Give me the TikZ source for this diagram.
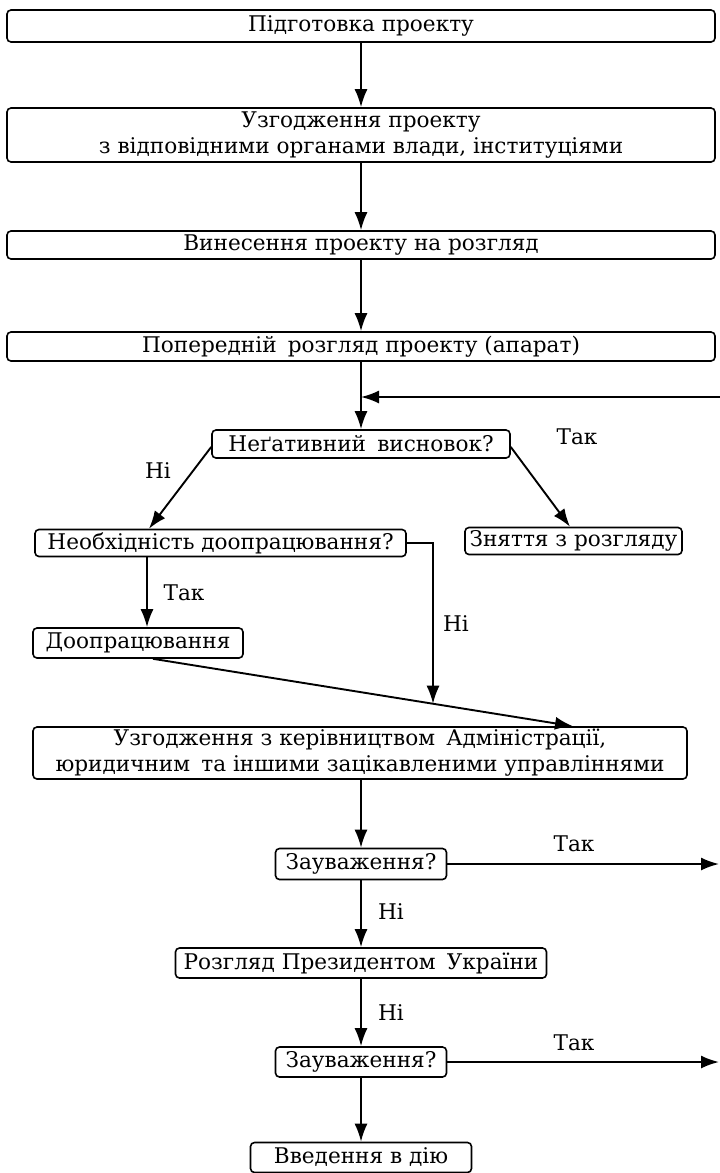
\documentclass[tikz,border=0pt]{standalone}
\usepackage{fontspec}
\setmainfont{DejaVu Serif}
\usetikzlibrary{arrows.meta,calc}
\newcommand{\xs}{\hspace{0.2em}}
\begin{document}
\begin{tikzpicture}[x=1pt,y=-1pt,
  box/.style={draw, line width=1.6pt, rounded corners=4pt, inner sep=0pt, align=center,
    font=\fontsize{21.6}{26}\selectfont},
  arr/.style={line width=1.9pt, -{Latex[length=18pt,width=13pt]}},
  lbl/.style={font=\fontsize{21.6}{26}\selectfont, inner sep=0pt}]
\useasboundingbox[fill=white] (0,0) rectangle (720,1173);

\node[box, minimum width=708pt, minimum height=32pt] (b1) at (361,26) {Підготовка проекту};
\node[box, minimum width=708pt, minimum height=54pt] (b2) at (361,135) {Узгодження проекту\\з відповідними органами влади, інституціями};
\node[box, minimum width=708pt, minimum height=28pt] (b3) at (361,245) {Винесення проекту на розгляд};
\node[box, minimum width=708pt, minimum height=29pt] (b4) at (361,346.5) {Попередній\xs{} розгляд проекту (апарат)};
\node[box, minimum width=298pt, minimum height=28pt] (b5) at (361,444) {Неґативний\xs{} висновок?};
\node[box, minimum width=371pt, minimum height=27pt] (b6) at (220.5,543) {Необхідність доопрацювання?};
\node[box, minimum width=217pt, minimum height=27pt] (b7) at (573.5,541) {Зняття з розгляду};
\node[box, minimum width=210pt, minimum height=30pt] (b8) at (138,643) {Доопрацювання};
\node[box, minimum width=654pt, minimum height=52pt] (b9) at (360,753) {Узгодження з керівництвом\xs{} Адміністрації,\\юридичним\xs{} та іншими зацікавленими управліннями};
\node[box, minimum width=171pt, minimum height=31pt] (b10) at (361,864) {Зауваження?};
\node[box, minimum width=371pt, minimum height=30pt] (b11) at (361,963) {Розгляд Президентом\xs{} України};
\node[box, minimum width=171pt, minimum height=30pt] (b12) at (361,1062) {Зауваження?};
\node[box, minimum width=221pt, minimum height=30pt] (b13) at (361,1157.5) {Введення в дію};

\coordinate (fb) at (720,397);
\coordinate (re) at (719,0);

\draw[arr] (b1) -- (b2);
\draw[arr] (b2) -- (b3);
\draw[arr] (b3) -- (b4);
\draw[arr] (b4) -- (b5);
\draw[arr] (fb) -- (fb -| b4.south);

\draw[arr] ([yshift=-3pt]b5.west) -- ([xshift=-71.5pt]b6.north);
\draw[arr] ([yshift=-3pt]b5.east) -- ([xshift=-3.5pt]b7.north);
\node[lbl] (l1) at (158,471) {Ні};
\node[lbl] (l2) at (577,437) {Так};

\draw[arr] ([xshift=9pt]b8.north |- b6.south) -- ([xshift=9pt]b8.north);
\node[lbl] (l3) at (184,593) {Так};

\coordinate (s8) at ([xshift=15pt]b8.south);
\coordinate (t9) at ([xshift=213pt]b9.north);
\draw[arr] (s8) -- (t9);
\draw[arr] (b6.east) -| ($(s8)!0.6667!(t9)$);
\node[lbl] (l4) at (456,624) {Ні};

\draw[arr] (b10.north |- b9.south) -- (b10.north);
\draw[arr] (b10.east) -- (b10.east -| re);
\node[lbl] (l5) at (574,844) {Так};
\draw[arr] (b10) -- (b11);
\node[lbl] (l6) at (391,912) {Ні};
\draw[arr] (b11) -- (b12);
\node[lbl] (l7) at (391,1013) {Ні};
\draw[arr] (b12.east) -- (b12.east -| re);
\node[lbl] (l8) at (574,1043) {Так};
\draw[arr] (b12) -- (b13);
\end{tikzpicture}
\end{document}
